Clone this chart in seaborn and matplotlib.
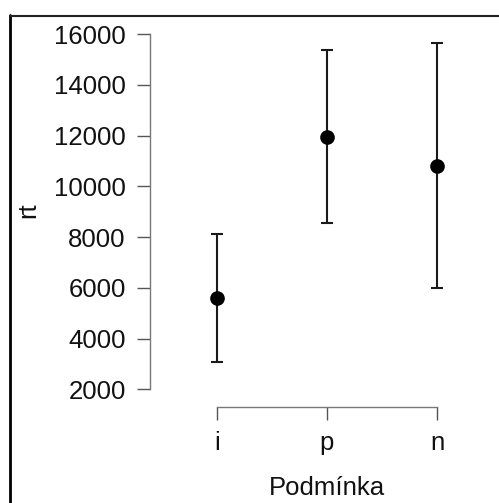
import numpy as np
import pandas as pd
import matplotlib
matplotlib.use("Agg")
import matplotlib.pyplot as plt
from matplotlib.lines import Line2D
import seaborn as sns

# Data
conditions = ["i", "p", "n"]
rt_mean = [5590, 11960, 10815]
rt_lower = [3060, 8560, 5985]
rt_upper = [8110, 15350, 15645]
y_ticks = [2000, 4000, 6000, 8000, 10000, 12000, 14000, 16000]

sns.set_style("white")
plt.rcParams["font.family"] = ["Liberation Sans", "DejaVu Sans"]

W, H = 499, 503
fig = plt.figure(figsize=(W / 100, H / 100), dpi=100)
L, R, T, B = 150, 470, 34, 389.3
ax = fig.add_axes([L / W, (H - B) / H, (R - L) / W, (B - T) / H])

df = pd.DataFrame({"Podmínka": conditions, "rt": rt_mean})
means = np.array(rt_mean, dtype=float)
lo = means - np.array(rt_lower)
hi = np.array(rt_upper) - means

ax.errorbar(range(len(conditions)), means, yerr=[lo, hi], fmt="none",
            ecolor="#1a1a1a", elinewidth=1.5, capsize=4, capthick=1.5, zorder=2)
sns.pointplot(data=df, x="Podmínka", y="rt", order=conditions, linestyle="none",
              color="black", markers="o", errorbar=None, markersize=8.5, ax=ax,
              zorder=3)

scale = 110.3
a = -(216.7 - L) / scale
ax.set_xlim(a, a + (R - L) / scale)
ax.set_ylim(2000, 16000)
ax.set_yticks(y_ticks)
ax.set_yticklabels([str(v) for v in y_ticks])
ax.set_xticks(range(len(conditions)))
ax.set_xticklabels(conditions)

for s in ["top", "right"]:
    ax.spines[s].set_visible(False)
ax.spines["left"].set_bounds(2000, 16000)
ax.spines["bottom"].set_bounds(0, 2)
ax.spines["bottom"].set_position(("outward", 12.5))
for s in ["left", "bottom"]:
    ax.spines[s].set_color("#777777")
    ax.spines[s].set_linewidth(1.0)
ax.tick_params(axis="both", length=9.4, width=1.0, color="#555555",
               labelsize=18.5, labelcolor="#111111", pad=8, direction="out",
               left=True, bottom=True)

ax.set_ylabel("rt", fontsize=18.5, color="#111111")
ax.set_xlabel("Podmínka", fontsize=18.5, color="#111111")
ax.yaxis.label.set_va("center")
ax.xaxis.label.set_va("center")
ax.yaxis.set_label_coords((28 - L) / (R - L), (B - 210) / (B - T))
ax.xaxis.set_label_coords((327 - L) / (R - L), (B - 488) / (B - T))

# outer frame (left and top)
fig.add_artist(Line2D([10 / W, 10 / W], [0, (H - 15) / H], transform=fig.transFigure,
                      color="black", lw=2.0))
fig.add_artist(Line2D([10 / W, 1], [(H - 16) / H, (H - 16) / H], transform=fig.transFigure,
                      color="#222222", lw=1.5))

fig.savefig("out.png", dpi=100)
